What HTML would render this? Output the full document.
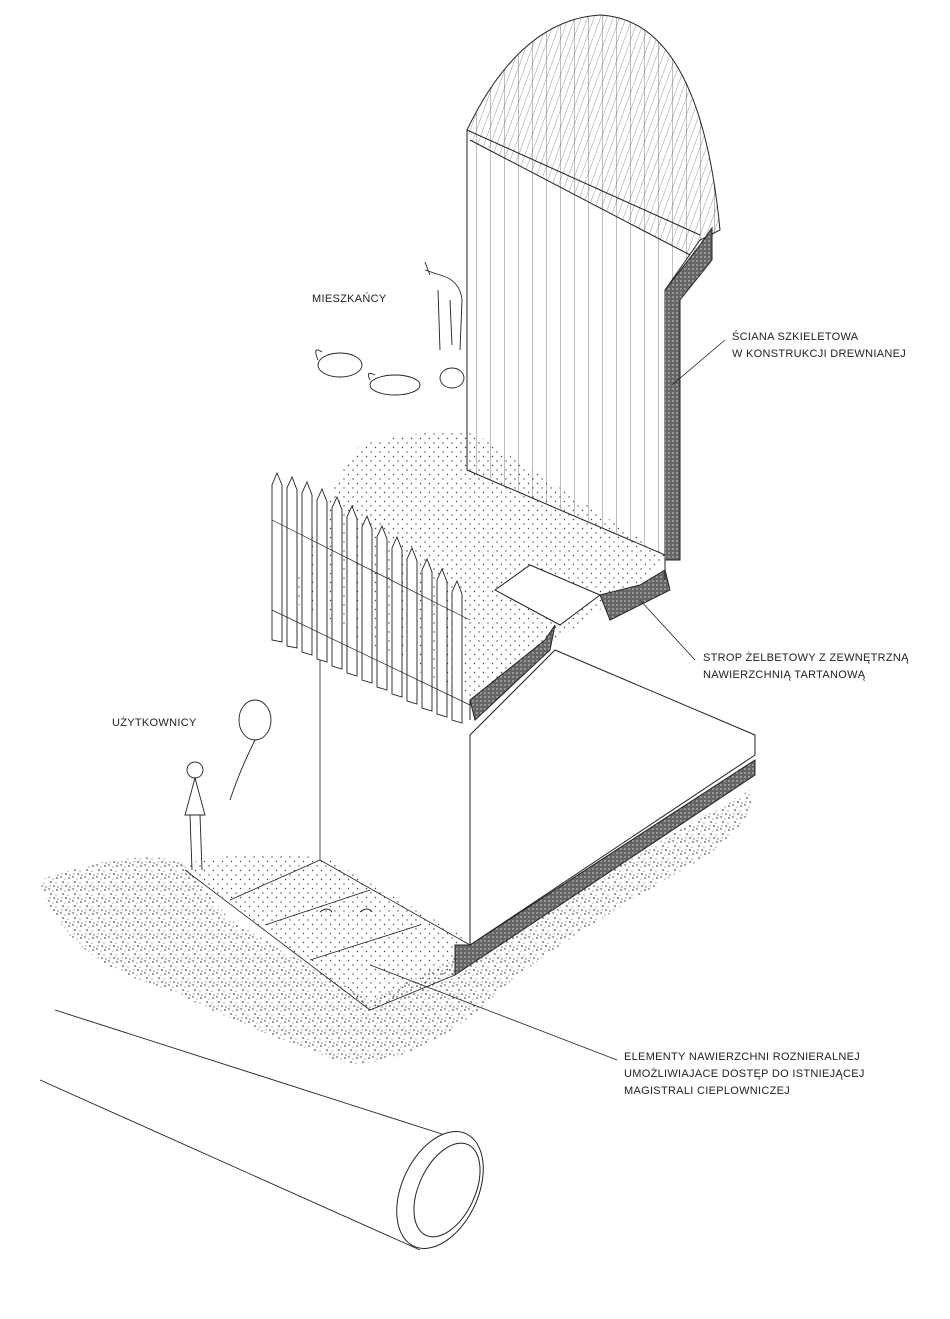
<!DOCTYPE html>
<html><head><meta charset="utf-8">
<style>
html,body{margin:0;padding:0;background:#fff;}
svg{display:block;}
text{font-family:"Liberation Sans",sans-serif;font-size:11px;fill:#222;letter-spacing:0.3px;}
</style></head><body>
<svg width="950" height="1319" viewBox="0 0 950 1319" xmlns="http://www.w3.org/2000/svg">
<defs>
<pattern id="dots" width="9" height="9" patternUnits="userSpaceOnUse">
<circle cx="2" cy="2" r="0.7" fill="#444"/><circle cx="6.5" cy="6.5" r="0.7" fill="#444"/>
</pattern>
<pattern id="grav" width="12" height="12" patternUnits="userSpaceOnUse">
<circle cx="1" cy="1" r="0.7" fill="#222"/><circle cx="5" cy="3" r="0.5" fill="#222"/><circle cx="9" cy="2" r="0.8" fill="#222"/>
<circle cx="3" cy="6" r="0.8" fill="#222"/><circle cx="8" cy="7" r="0.5" fill="#222"/>
<circle cx="2" cy="10" r="0.5" fill="#222"/><circle cx="6" cy="10" r="0.8" fill="#222"/><circle cx="10" cy="11" r="0.6" fill="#222"/>
</pattern>
<pattern id="hatch" width="6" height="6" patternUnits="userSpaceOnUse" patternTransform="rotate(20)">
<line x1="0" y1="0" x2="0" y2="6" stroke="#555" stroke-width="0.6"/>
</pattern>
<pattern id="vlines" width="14" height="20" patternUnits="userSpaceOnUse">
<line x1="0" y1="0" x2="0" y2="20" stroke="#444" stroke-width="0.7"/>
</pattern>
<pattern id="dark" width="4" height="4" patternUnits="userSpaceOnUse">
<rect width="4" height="4" fill="#666"/><circle cx="1" cy="1" r="0.7" fill="#ddd"/>
</pattern>
</defs>
<g stroke="#222" fill="none" stroke-width="1">
<path d="M40 880 Q120 850 180 860 L230 920 L370 1000 L470 950 L750 790 Q760 820 700 860 Q560 940 500 990 Q430 1060 350 1065 Q250 1030 170 990 Q60 960 40 880 Z" fill="url(#grav)" stroke="none"/>
<path d="M180 865 Q260 845 330 860 L470 940 L455 975 L370 1010 Z" fill="url(#dots)" stroke="none"/>
<path d="M185 870 L370 1010 L455 975 M230 900 L320 860 M265 925 L370 890 M310 960 L420 925" stroke-width="0.8"/>
<path d="M320 860 L320 640 M470 735 L470 945 M320 860 L470 945" stroke-width="0.8"/>
<path d="M470 735 L555 650 L755 735 L755 755 L470 945 Z" fill="#fff"/>
<path d="M470 945 L755 760 L755 775 L470 965 L455 975 L455 945 Z" fill="url(#dark)"/>
<path d="M360 445 Q420 430 470 430 L665 555 L650 575 L470 700 L290 600 Q330 480 360 445 Z" fill="url(#dots)" stroke="none"/>
<path d="M495 590 L530 565 L600 595 L560 625 Z" fill="#fff"/>
<path d="M470 700 L545 640 L555 625 L550 650 L475 720 Z" fill="url(#dark)"/>
<path d="M600 595 L640 585 L665 570 L670 590 L610 620 Z" fill="url(#dark)"/>
<path d="M470 700 L470 720 M665 555 L665 580" />
<g fill="#fff" stroke-width="0.9">
<path d="M272 640 L272 485 L277 473 L282 485 L282 642 Z"/>
<path d="M287 646 L287 488 L292 477 L297 490 L297 648 Z"/>
<path d="M302 652 L302 493 L307 482 L312 495 L312 655 Z"/>
<path d="M317 659 L317 500 L322 489 L327 502 L327 662 Z"/>
<path d="M332 666 L332 508 L337 497 L342 510 L342 669 Z"/>
<path d="M347 673 L347 517 L352 506 L357 519 L357 676 Z"/>
<path d="M362 680 L362 527 L367 516 L372 529 L372 683 Z"/>
<path d="M377 687 L377 537 L382 526 L387 539 L387 690 Z"/>
<path d="M392 694 L392 548 L397 537 L402 550 L402 697 Z"/>
<path d="M407 701 L407 559 L412 548 L417 561 L417 704 Z"/>
<path d="M422 708 L422 570 L427 559 L432 572 L432 711 Z"/>
<path d="M437 714 L437 580 L442 569 L447 582 L447 717 Z"/>
<path d="M452 720 L452 592 L457 581 L462 594 L462 723 Z"/>
</g>
<path d="M272 520 L470 620 M272 610 L470 705" stroke-width="0.7"/>
<path d="M467 130 Q520 20 600 15 Q700 20 720 230 L700 240 L665 290 L665 555 L467 470 Z" fill="url(#vlines)"/>
<path d="M467 130 Q520 20 600 15 Q700 20 720 230 L690 255 L470 140 Z" fill="url(#hatch)" stroke="none"/>
<path d="M470 140 L690 255 M467 130 L700 235" />
<path d="M665 290 L700 245 L712 228 L712 260 L680 300 L680 560 L665 560" fill="url(#dark)"/>
<path d="M672 385 L725 340 M640 600 L695 660 M370 965 L617 1060" stroke-width="0.8"/>
<path d="M55 1010 L445 1135 M40 1080 L420 1250" stroke-width="0.9"/>
<ellipse cx="440" cy="1190" rx="38" ry="62" transform="rotate(25 440 1190)" fill="#fff"/>
<ellipse cx="447" cy="1190" rx="28" ry="50" transform="rotate(25 447 1190)"/>
<g stroke-width="0.9">
<path d="M425 270 L440 275 Q460 280 462 300 L460 350 M438 290 L440 350 M450 300 L452 345 M425 262 L430 275"/>
<ellipse cx="340" cy="365" rx="22" ry="12"/><path d="M318 360 Q312 345 322 352"/>
<ellipse cx="395" cy="385" rx="25" ry="10"/><path d="M370 380 Q365 370 375 375"/>
<ellipse cx="452" cy="378" rx="12" ry="10"/>
<circle cx="195" cy="770" r="8"/><path d="M195 778 L185 815 L205 815 Z M190 815 L192 870 M200 815 L202 870"/>
<ellipse cx="255" cy="720" rx="16" ry="20"/><path d="M255 740 Q240 770 230 800"/>
<path d="M320 912 q8 -6 12 0 M360 912 q8 -6 12 0"/>
</g>
</g>
<text x="312" y="302">MIESZKAŃCY</text>
<text x="112" y="726">UŻYTKOWNICY</text>
<text x="732" y="340">ŚCIANA SZKIELETOWA</text>
<text x="732" y="357">W KONSTRUKCJI DREWNIANEJ</text>
<text x="703" y="661">STROP ŻELBETOWY Z ZEWNĘTRZNĄ</text>
<text x="703" y="678">NAWIERZCHNIĄ TARTANOWĄ</text>
<text x="624" y="1060">ELEMENTY NAWIERZCHNI ROZNIERALNEJ</text>
<text x="624" y="1077">UMOŻLIWIAJACE DOSTĘP DO ISTNIEJĄCEJ</text>
<text x="624" y="1094">MAGISTRALI CIEPLOWNICZEJ</text>
</svg>
</body></html>
